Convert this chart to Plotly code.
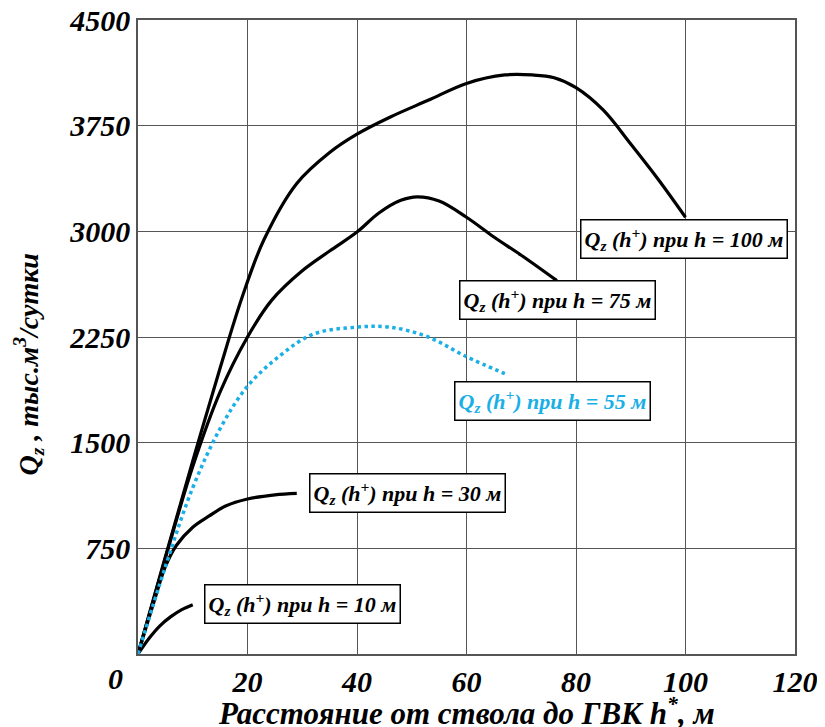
import plotly.graph_objects as go

# h = 100 m
x100 = [0, 5, 10, 15, 19, 23, 29, 35, 40, 46, 53, 60, 67, 72, 76, 80, 85, 90, 95, 100]
y100 = [0, 690, 1370, 2030, 2530, 2940, 3340, 3560, 3690, 3810, 3930, 4050, 4110, 4110, 4090, 4020, 3860, 3620, 3370, 3100]
# h = 75 m
x75 = [0, 5, 10, 15, 20, 24.4, 30, 35, 40, 44, 48, 51, 55, 60, 65, 70, 76.5]
y75 = [0, 680, 1330, 1860, 2250, 2510, 2720, 2860, 2995, 3130, 3220, 3245, 3215, 3100, 2960, 2830, 2650]
# h = 55 m
x55 = [0, 5, 10, 15, 20, 26, 32, 40, 46, 53, 60, 67]
y55 = [0, 620, 1180, 1600, 1900, 2120, 2270, 2320, 2320, 2250, 2110, 1990]
# h = 30 m
x30 = [0, 3, 5, 7, 10, 13, 16, 20, 25, 29]
y30 = [0, 380, 620, 770, 900, 980, 1050, 1100, 1130, 1140]
# h = 10 m
x10 = [0, 2, 4, 6, 8, 10]
y10 = [0, 110, 200, 265, 315, 350]

x_ticks = [20, 40, 60, 80, 100, 120]
y_ticks = [750, 1500, 2250, 3000, 3750, 4500]

labels = [
    ("Q<sub>z</sub> (h<sup>+</sup>) при h = 100 м", 99.7, 2945, "black"),
    ("Q<sub>z</sub> (h<sup>+</sup>) при h = 75 м", 76.7, 2512, "black"),
    ("Q<sub>z</sub> (h<sup>+</sup>) при h = 55 м", 75.7, 1799, "#1AAFE6"),
    ("Q<sub>z</sub> (h<sup>+</sup>) при h = 30 м", 49.3, 1146, "black"),
    ("Q<sub>z</sub> (h<sup>+</sup>) при h = 10 м", 30.1, 358, "black"),
]

FONT = "Liberation Serif"

fig = go.Figure()
for xs, ys in [(x100, y100), (x75, y75), (x30, y30), (x10, y10)]:
    fig.add_trace(go.Scatter(x=xs, y=ys, mode="lines",
                             line=dict(color="black", width=3.2, shape="spline", smoothing=1.0),
                             showlegend=False, hoverinfo="skip"))
fig.add_trace(go.Scatter(x=x55, y=y55, mode="lines",
                         line=dict(color="#1AAFE6", width=3.5, dash="dot", shape="spline", smoothing=1.0),
                         showlegend=False, hoverinfo="skip"))

for text, lx, ly, col in labels:
    fig.add_annotation(x=lx, y=ly, xref="x", yref="y", text=text, showarrow=False,
                       xanchor="center", yanchor="middle",
                       font=dict(family=FONT, size=22, color=col, weight="bold", style="italic"),
                       bgcolor="white", bordercolor="black", borderwidth=1.5, borderpad=3)

fig.add_annotation(x=-0.035, y=-0.038, xref="paper", yref="paper", text="0", showarrow=False,
                   xanchor="center", yanchor="middle",
                   font=dict(family=FONT, size=30, color="black", weight="bold", style="italic"))
fig.add_annotation(x=0.5, y=-0.09, xref="paper", yref="paper", xanchor="center", yanchor="middle",
                   text="Расстояние от ствола до ГВК h<sup>*</sup>, м", showarrow=False,
                   font=dict(family=FONT, size=31, color="black", weight="bold", style="italic"))
fig.add_annotation(x=-0.166, y=0.458, xref="paper", yref="paper", textangle=-90,
                   xanchor="center", yanchor="middle",
                   text="Q<sub>z</sub> , тыс.м<sup>3</sup>/сутки", showarrow=False,
                   font=dict(family=FONT, size=28, color="black", weight="bold", style="italic"))

axis_common = dict(showline=True, mirror=True, linecolor="#555", linewidth=1.5,
                   showgrid=True, gridcolor="#555", gridwidth=1.3, zeroline=False, automargin=False,
                   ticks="", ticklabeloverflow="allow",
                   tickfont=dict(family=FONT, size=30, color="black", weight="bold", style="italic"))
fig.update_xaxes(range=[0, 120], tickvals=x_ticks, ticktext=[str(v) for v in x_ticks], **axis_common)
fig.update_yaxes(range=[0, 4500], tickvals=y_ticks, ticktext=[str(v) for v in y_ticks], **axis_common)

# page body has an 8px margin, so shift the plot area back by 8px
fig.update_layout(width=825, height=727, margin=dict(l=130, r=38, t=12, b=81, autoexpand=False),
                  plot_bgcolor="white", paper_bgcolor="white")
fig.write_html("out.html")
